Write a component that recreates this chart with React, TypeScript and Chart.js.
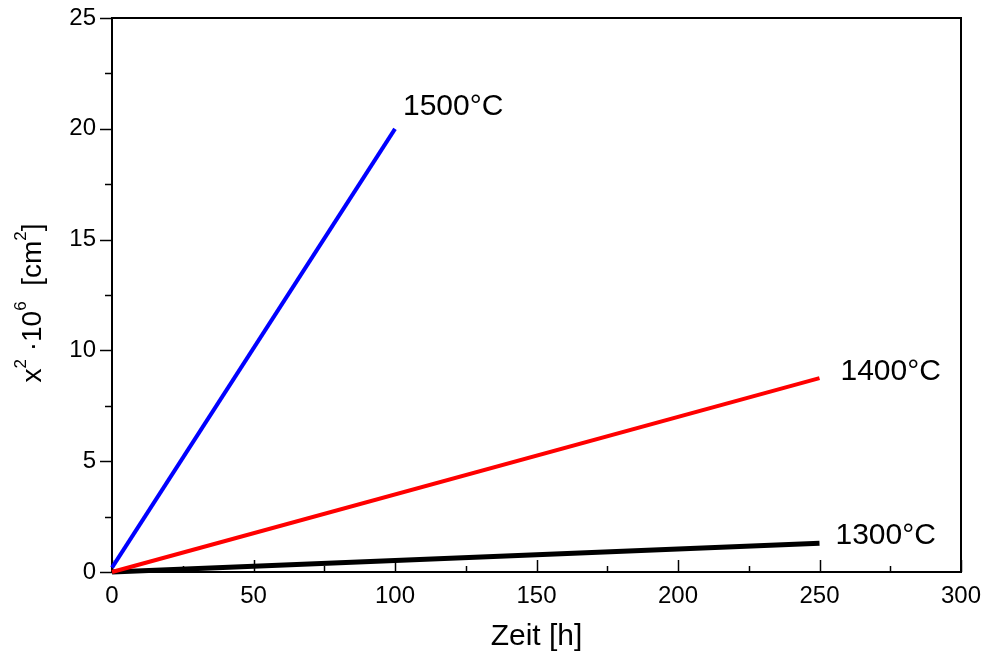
import React, { useEffect, useRef } from "react";
import { Chart, registerables } from "chart.js";

Chart.register(...registerables);

// ---- data ----
const time1500 = [0, 100];
const x2_1500 = [0.2, 20];
const time1400 = [0, 250];
const x2_1400 = [0, 8.75];
const time1300 = [0, 250];
const x2_1300 = [0, 1.3];

const seriesLabels = ["1500°C", "1400°C", "1300°C"];

const xMin = 0;
const xMax = 300;
const xMajorStep = 50;
const xMinorStep = 25;
const yMin = 0;
const yMax = 25;
const yMajorStep = 5;
const yMinorStep = 2.5;

const xTitle = "Zeit [h]";

const FONT = "'Liberation Sans', Arial, sans-serif";

const toPoints = (xs: number[], ys: number[]) => xs.map((x, i) => ({ x, y: ys[i] }));

// label offsets (pixels, relative to line end point) - styling only
const labelOffsets = [
  { dx: 8, dy: -22 },
  { dx: 21, dy: -6 },
  { dx: 16, dy: -7 },
];

const framePlugin = {
  id: "framePlugin",
  beforeDatasetsDraw(chart: any) {
    const { ctx, chartArea } = chart;
    const xs = chart.scales.x;
    const ys = chart.scales.y;
    ctx.save();
    ctx.strokeStyle = "#000";
    ctx.lineWidth = 2;
    ctx.strokeRect(chartArea.left, chartArea.top, chartArea.right - chartArea.left, chartArea.bottom - chartArea.top);
    // x ticks (inward)
    ctx.lineWidth = 1.5;
    for (let v = xMin; v <= xMax + 1e-9; v += xMinorStep) {
      const px = Math.round(xs.getPixelForValue(v)) + 0.5;
      const major = Math.abs(v / xMajorStep - Math.round(v / xMajorStep)) < 1e-9;
      const len = major ? 12 : 6;
      ctx.beginPath();
      ctx.moveTo(px, chartArea.bottom);
      ctx.lineTo(px, chartArea.bottom - len);
      ctx.stroke();
    }
    // y ticks (outward)
    for (let v = yMin; v <= yMax + 1e-9; v += yMinorStep) {
      const py = Math.round(ys.getPixelForValue(v)) + 0.5;
      const major = Math.abs(v / yMajorStep - Math.round(v / yMajorStep)) < 1e-9;
      const len = major ? 12 : 7;
      ctx.beginPath();
      ctx.moveTo(chartArea.left, py);
      ctx.lineTo(chartArea.left - len, py);
      ctx.stroke();
    }
    ctx.restore();
  },
  afterDraw(chart: any) {
    const { ctx, chartArea } = chart;
    const xs = chart.scales.x;
    const ys = chart.scales.y;
    ctx.save();
    ctx.fillStyle = "#000";
    // series labels at line ends
    ctx.font = `30px ${FONT}`;
    ctx.textAlign = "left";
    ctx.textBaseline = "middle";
    chart.data.datasets.forEach((ds: any, i: number) => {
      const last = ds.data[ds.data.length - 1];
      const px = xs.getPixelForValue(last.x) + labelOffsets[i].dx;
      const py = ys.getPixelForValue(last.y) + labelOffsets[i].dy;
      ctx.fillText(seriesLabels[i], px, py);
    });
    // x title
    ctx.font = `30px ${FONT}`;
    ctx.textAlign = "center";
    ctx.textBaseline = "middle";
    ctx.fillText(xTitle, (chartArea.left + chartArea.right) / 2, 637);
    // y title with superscripts
    const main = `28px ${FONT}`;
    const sup = `17px ${FONT}`;
    const parts: { t: string; s: boolean }[] = [
      { t: "x", s: false },
      { t: "2", s: true },
      { t: " ·10", s: false },
      { t: "6", s: true },
      { t: "  [cm", s: false },
      { t: "2", s: true },
      { t: "]", s: false },
    ];
    let total = 0;
    const widths = parts.map((p) => {
      ctx.font = p.s ? sup : main;
      const w = ctx.measureText(p.t).width;
      total += w;
      return w;
    });
    const cy = 303;
    ctx.translate(41, cy);
    ctx.rotate(-Math.PI / 2);
    ctx.textAlign = "left";
    ctx.textBaseline = "alphabetic";
    let x = -total / 2;
    parts.forEach((p, i) => {
      ctx.font = p.s ? sup : main;
      ctx.fillText(p.t, x, p.s ? -15 : 0);
      x += widths[i];
    });
    ctx.restore();
  },
};

export default function App() {
  const ref = useRef<HTMLCanvasElement>(null);
  useEffect(() => {
    if (!ref.current) return;
    const chart = new Chart(ref.current, {
      type: "line",
      data: {
        datasets: [
          {
            label: seriesLabels[0],
            data: toPoints(time1500, x2_1500),
            borderColor: "#0000ff",
            borderWidth: 4,
            pointRadius: 0,
            clip: false as any,
          },
          {
            label: seriesLabels[1],
            data: toPoints(time1400, x2_1400),
            borderColor: "#ff0000",
            borderWidth: 4,
            pointRadius: 0,
            clip: false as any,
          },
          {
            label: seriesLabels[2],
            data: toPoints(time1300, x2_1300),
            borderColor: "#000000",
            borderWidth: 5,
            pointRadius: 0,
            clip: false as any,
          },
        ],
      },
      plugins: [framePlugin],
      options: {
        animation: false,
        responsive: true,
        maintainAspectRatio: false,
        layout: { padding: { top: 18, right: 20, left: 0, bottom: 0 } },
        plugins: { legend: { display: false }, tooltip: { enabled: false }, title: { display: false } },
        scales: {
          x: {
            type: "linear",
            min: xMin,
            max: xMax,
            afterFit: (s: any) => {
              s.height = 83;
              s.paddingLeft = 0;
              s.paddingRight = 0;
            },
            ticks: { stepSize: xMajorStep, color: "#000", font: { family: FONT, size: 24 }, padding: 10, maxRotation: 0 },
            grid: { display: false, drawTicks: false },
            border: { display: false },
          },
          y: {
            type: "linear",
            min: yMin,
            max: yMax,
            afterFit: (s: any) => {
              s.width = 112;
              s.paddingTop = 0;
              s.paddingBottom = 0;
            },
            ticks: { stepSize: yMajorStep, color: "#000", font: { family: FONT, size: 24 }, padding: 16 },
            grid: { display: false, drawTicks: false },
            border: { display: false },
          },
        },
      },
    });
    return () => chart.destroy();
  }, []);
  return (
    <div style={{ position: "fixed", left: 0, top: 0, width: 981, height: 655, background: "#fff" }}>
      <canvas ref={ref} />
    </div>
  );
}
